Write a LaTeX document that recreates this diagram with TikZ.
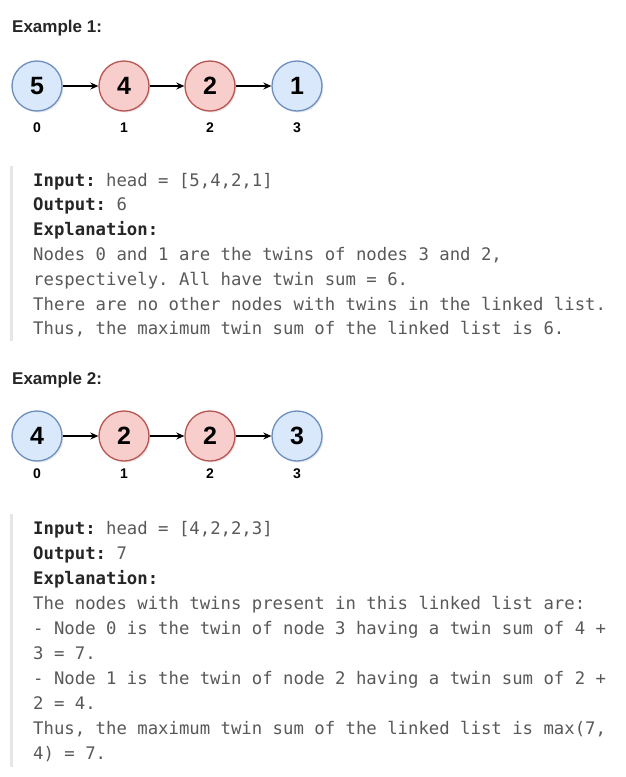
\documentclass[tikz,border=0pt]{standalone}
\usepackage{fontspec}
\setmainfont{Liberation Sans}
\setmonofont{DejaVu Sans Mono}
\usetikzlibrary{arrows.meta,shadows}
\definecolor{bfill}{HTML}{DAE8FC}
\definecolor{bdraw}{HTML}{6C8EBF}
\definecolor{rfill}{HTML}{F8CECC}
\definecolor{rdraw}{HTML}{B85450}
\definecolor{bodytxt}{HTML}{595959}
\definecolor{labtxt}{HTML}{262626}
\definecolor{barcol}{HTML}{E6E6E6}
\newcommand{\lab}[1]{{\color{labtxt}\bfseries #1}}
\begin{document}
\begin{tikzpicture}[x=1pt,y=-1pt,
 lnode/.style={circle, minimum size=50pt, inner sep=0pt, line width=1.3pt,
   font=\fontsize{25}{25}\selectfont\bfseries,
   drop shadow={shadow xshift=1.5pt, shadow yshift=-1.5pt, opacity=0.18}},
 bnode/.style={lnode, draw=bdraw, fill=bfill},
 rnode/.style={lnode, draw=rdraw, fill=rfill},
 idx/.style={font=\fontsize{14}{14}\selectfont\bfseries, anchor=base, inner sep=0pt},
 title/.style={font=\fontsize{17}{18}\selectfont\bfseries, anchor=base west, text=labtxt, inner sep=0pt},
 code/.style={font=\ttfamily\fontsize{17.3}{25}\selectfont, anchor=base west, text=bodytxt, inner sep=0pt},
 link/.style={-{Stealth[length=8pt,width=7pt]}, line width=1.2pt},
 bar/.style={fill=barcol, draw=none}
]
\fill[white] (0,0) rectangle (625,777);
\useasboundingbox (0,0) rectangle (625,777);

% Example 1
\node[title] (e1) at (12,32) {Example 1:};
\node[bnode] (a0) at (37,86) {5};
\node[rnode] (a1) at (124,86) {4};
\node[rnode] (a2) at (210,86) {2};
\node[bnode] (a3) at (297,86) {1};
\draw[link] (a0) -- (a1);
\draw[link] (a1) -- (a2);
\draw[link] (a2) -- (a3);
\node[idx] (ai0) at (37,132) {0};
\node[idx] (ai1) at (124,132) {1};
\node[idx] (ai2) at (210,132) {2};
\node[idx] (ai3) at (297,132) {3};

\fill[bar] (10,166) rectangle (12.5,341);
\node[code] (t1) at (33,186) {\lab{Input:} head = [5,4,2,1]};
\node[code] (t2) at (33,210.8) {\lab{Output:} 6};
\node[code] (t3) at (33,235.6) {\lab{Explanation:}};
\node[code] (t4) at (33,260.4) {Nodes 0 and 1 are the twins of nodes 3 and 2,};
\node[code] (t5) at (33,285.2) {respectively. All have twin sum = 6.};
\node[code] (t6) at (33,310) {There are no other nodes with twins in the linked list.};
\node[code] (t7) at (33,334.8) {Thus, the maximum twin sum of the linked list is 6.};

% Example 2
\node[title] (e2) at (12,384) {Example 2:};
\node[bnode] (b0) at (37,436) {4};
\node[rnode] (b1) at (124,436) {2};
\node[rnode] (b2) at (210,436) {2};
\node[bnode] (b3) at (297,436) {3};
\draw[link] (b0) -- (b1);
\draw[link] (b1) -- (b2);
\draw[link] (b2) -- (b3);
\node[idx] (bi0) at (37,478) {0};
\node[idx] (bi1) at (124,478) {1};
\node[idx] (bi2) at (210,478) {2};
\node[idx] (bi3) at (297,478) {3};

\fill[bar] (10,514) rectangle (12.5,767);
\node[code] (u1) at (33,534) {\lab{Input:} head = [4,2,2,3]};
\node[code] (u2) at (33,559) {\lab{Output:} 7};
\node[code] (u3) at (33,584) {\lab{Explanation:}};
\node[code] (u4) at (33,609) {The nodes with twins present in this linked list are:};
\node[code] (u5) at (33,634) {- Node 0 is the twin of node 3 having a twin sum of 4 +};
\node[code] (u6) at (33,659) {3 = 7.};
\node[code] (u7) at (33,684) {- Node 1 is the twin of node 2 having a twin sum of 2 +};
\node[code] (u8) at (33,709) {2 = 4.};
\node[code] (u9) at (33,734) {Thus, the maximum twin sum of the linked list is max(7,};
\node[code] (u10) at (33,759) {4) = 7.};
\end{tikzpicture}
\end{document}
